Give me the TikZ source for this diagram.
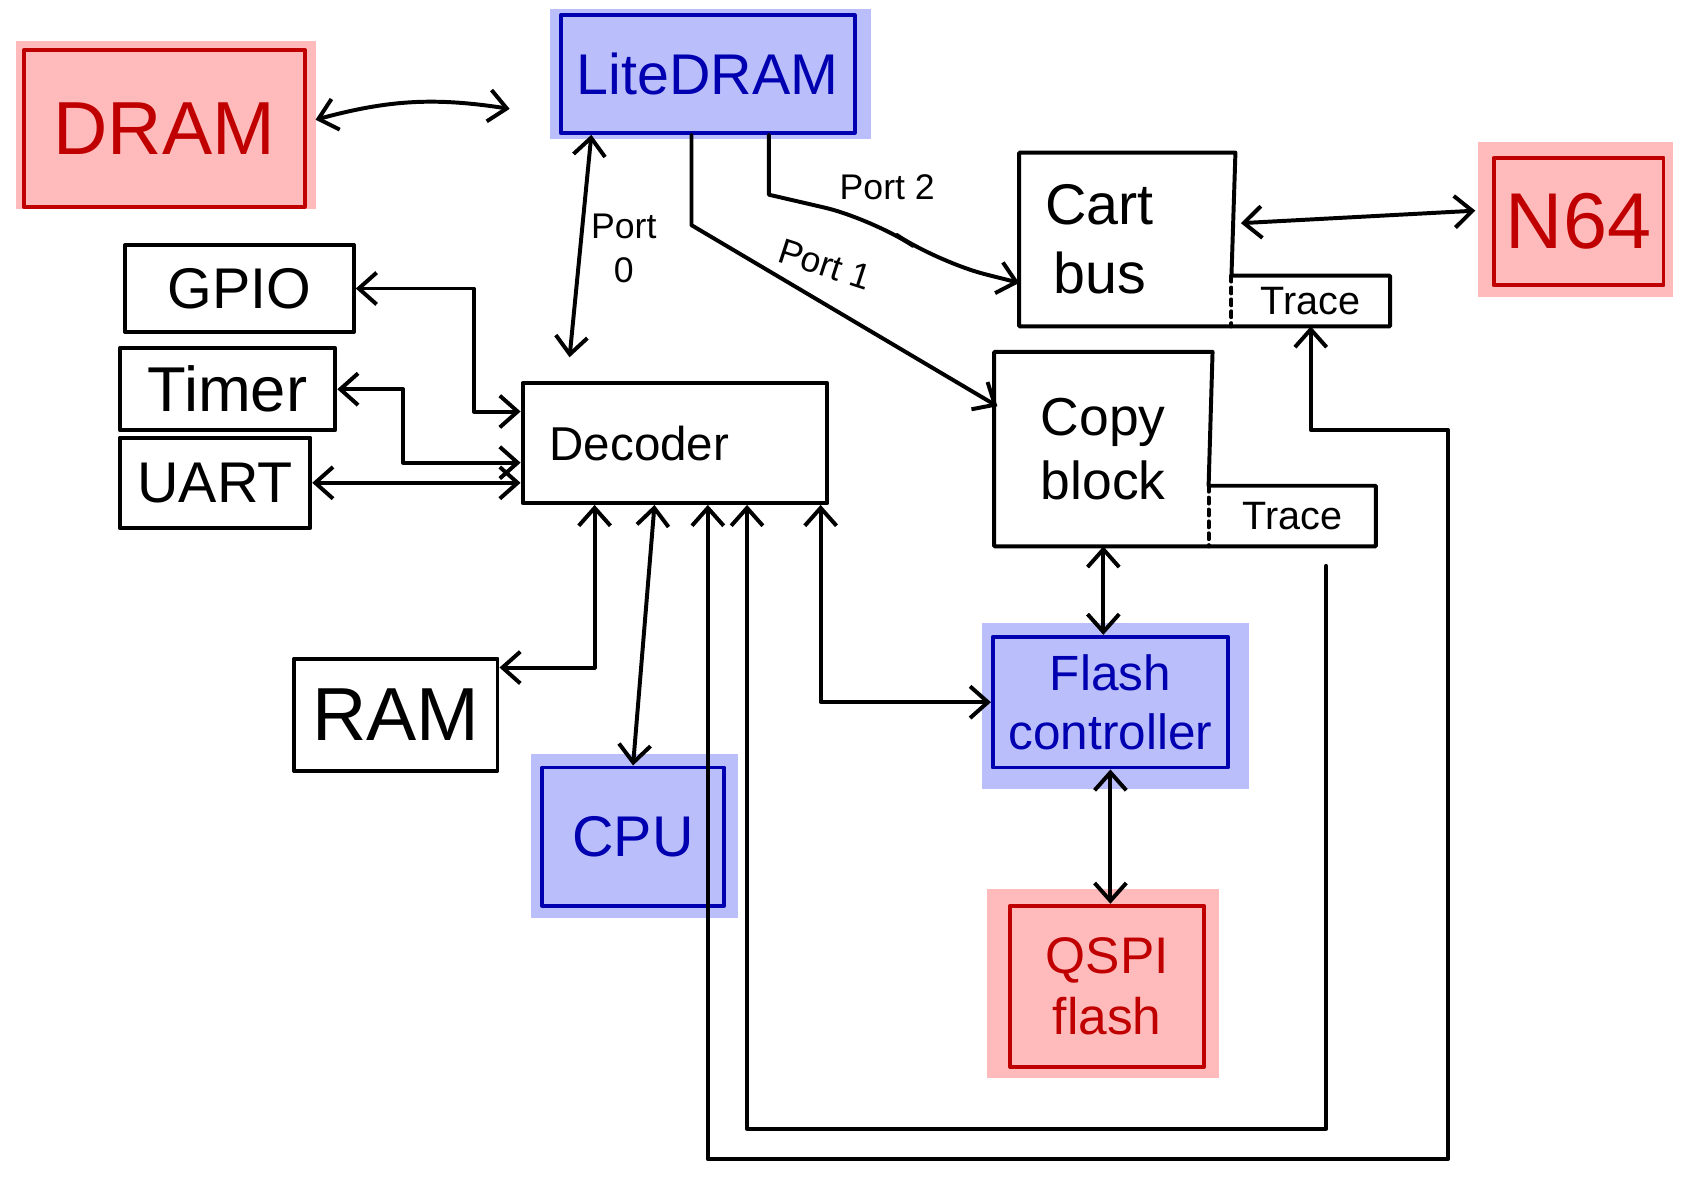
\documentclass[tikz,border=0pt]{standalone}
\usepackage{fontspec}
\setmainfont{Liberation Sans}
\usetikzlibrary{arrows.meta,calc}
\definecolor{redfill}{RGB}{255,187,187}
\definecolor{bluefill}{RGB}{186,190,250}
\definecolor{redline}{RGB}{192,0,0}
\definecolor{blueline}{RGB}{0,0,176}
\newcommand{\fs}[1]{\fontsize{#1pt}{\the\numexpr#1*6/5\relax pt}\selectfont}
% \bx{style}{name}{x1}{y1}{x2}{y2}{text}
\newcommand{\bx}[7]{\node[#1,minimum width={(#5-#3)*0.55pt},minimum height={(#6-#4)*0.55pt}]
  (#2) at ({(#3+#5)/2},{(#4+#6)/2}) {#7};}
\begin{document}
\begin{tikzpicture}[x=0.55pt,y=-0.55pt,line width=2pt,line join=round,line cap=round,
  >={Straight Barb[length=9pt,width=16pt]},
  box/.style={draw,inner sep=0pt,align=center},
  bare/.style={inner sep=0pt,align=center},
  redbox/.style={box,draw=redline,text=redline},
  bluebox/.style={box,draw=blueline,text=blueline},
  lbl/.style={inner sep=0pt,align=center,font=\fs{18}}]
\useasboundingbox (0,0) rectangle (1568,1093);
% highlight fills
\fill[redfill] (15,38) rectangle (290,192);
\fill[bluefill] (505,8) rectangle (800,128);
\fill[redfill] (1358,130) rectangle (1537,273);
\fill[bluefill] (902,572) rectangle (1147,725);
\fill[redfill] (907,817) rectangle (1120,990);
\fill[bluefill] (488,693) rectangle (678,843);
% nodes
\bx{redbox,font=\fs{38}}{dram}{22}{46}{280}{190}{DRAM}
\bx{bluebox,font=\fs{29}}{lite}{515}{14}{785}{122}{LiteDRAM}
\bx{box,font=\fs{29}}{gpio}{115}{225}{325}{305}{GPIO}
\bx{box,font=\fs{32}}{timer}{110}{320}{308}{395}{Timer}
\bx{box,font=\fs{29}}{uart}{110}{402}{285}{485}{UART}
\bx{box,font=\fs{24}}{dec}{480}{352}{760}{462}{Decoder\hspace*{36pt}}
\bx{bare,font=\fs{29}}{cart}{938}{142}{1133}{298}{Cart\hspace*{28pt}\\bus\hspace*{28pt}}
\bx{bare,font=\fs{20}}{ctrace}{1133}{255}{1275}{298}{Trace}
\bx{redbox,font=\fs{40}}{n64}{1372}{145}{1528}{262}{N64}
\bx{bare,font=\fs{27}}{copy}{915}{325}{1112}{500}{Copy\\block}
\bx{bare,font=\fs{20}}{ttrace}{1112}{448}{1262}{500}{Trace}
\bx{bluebox,font=\fs{25}}{flash}{912}{585}{1128}{705}{Flash\\controller}
\bx{redbox,font=\fs{26}}{qspi}{928}{832}{1106}{980}{QSPI\\flash}
\bx{box,font=\fs{38}}{ram}{270}{605}{457}{708}{RAM}
\bx{bluebox,font=\fs{29}}{cpu}{498}{705}{665}{832}{CPU}
% outlines of the combined blocks
\draw (ctrace.north west) -- (cart.north east) -- (cart.north west) -- (cart.south west)
  -- (ctrace.south east) -- (ctrace.north east) -- cycle;
\draw[dashed] (ctrace.north west) -- (ctrace.south west);
\draw (ttrace.north west) -- (copy.north east) -- (copy.north west) -- (copy.south west)
  -- (ttrace.south east) -- (ttrace.north east) -- cycle;
\draw[dashed] (ttrace.north west) -- (ttrace.south west);
% connectors
\draw[<->] ($(dram.east)+(8,-8)$) to[bend left=12] ($(lite.west)+(-45,32)$);
\draw[<->] (gpio.east) -| ($(dec.west)+(-43,-29)$) -- ($(dec.west)+(0,-29)$);
\draw[<->] (timer.east) -| ($(dec.west)+(-108,18)$) -- ($(dec.west)+(0,18)$);
\draw[<->] (uart.east) -- (dec.west |- uart.east);
\draw[<->] ($(lite.south west)+(30,0)$) -- ($(dec.north west)+(45,-22)$);
\node[lbl] (p0) at (573,228) {Port\\0};
\draw[->] ($(lite.south west)+(122,0)$) -- ++(0,83) -- ($(copy.north west)+(3,50)$);
\node[lbl,rotate=-18] (p1) at (758,243) {Port 1};
\draw[->] ($(lite.south west)+(193,0)$) -- ++(0,55) [rounded corners=25pt] -- ++(95,22) -- ++(60,40)
  -- ($(cart.south west)+(0,-40)$);
\node[lbl] (p2) at (815,172) {Port 2};
\draw[<->] ($(cart.east)+(5,-15)$) -- ($(n64.west)+(-15,-10)$);
\draw[<->] (copy.south) -- (copy.south |- flash.north);
\draw[<->] (flash.south) -- (flash.south |- qspi.north);
\draw[<->] ($(dec.south west)+(68,0)$) |- ($(ram.north east)+(0,10)$);
\draw[<->] ($(dec.south west)+(123,0)$) -- (cpu.north);
\draw[<->] ($(dec.south west)+(172,0)$) |- ($(ctrace.south)+(126,765)$) |- ($(ctrace.south)+(0,95)$) -- (ctrace.south);
\draw[<-] ($(dec.south west)+(208,0)$) |- ($(ttrace.south)+(31,535)$) -- ($(ttrace.south)+(31,18)$);
\draw[<->] ($(dec.south east)+(-8,0)$) |- (flash.west);
\end{tikzpicture}
\end{document}
